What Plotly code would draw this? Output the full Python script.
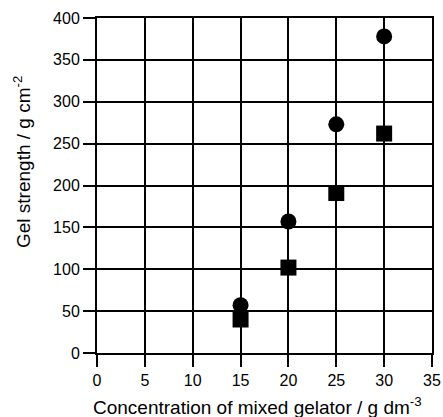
import plotly.graph_objects as go

conc = [15, 20, 25, 30]
circle_vals = [57, 157, 273, 378]
square_vals = [40, 102, 191, 262]

x_ticks = [0, 5, 10, 15, 20, 25, 30, 35]
y_ticks = [0, 50, 100, 150, 200, 250, 300, 350, 400]

x_title = "Concentration of mixed gelator / g dm<sup>-3</sup>"
y_title = "Gel strength / g cm<sup>-2</sup>"

font_fam = "Liberation Sans, Arial, Helvetica, sans-serif"

fig = go.Figure()
fig.add_trace(go.Scatter(x=conc, y=circle_vals, mode="markers",
                         marker=dict(symbol="circle", size=16, color="black"),
                         showlegend=False, cliponaxis=False))
fig.add_trace(go.Scatter(x=conc, y=square_vals, mode="markers",
                         marker=dict(symbol="square", size=16, color="black"),
                         showlegend=False, cliponaxis=False))

axis_common = dict(showgrid=True, gridcolor="black", gridwidth=2,
                   showline=True, linecolor="black", linewidth=2, mirror=True,
                   ticks="outside", ticklen=12, tickwidth=2, tickcolor="black",
                   zeroline=False, tickfont=dict(size=16, color="black", family=font_fam))

fig.update_xaxes(range=[0, 35], tickvals=x_ticks, ticktext=[str(v) for v in x_ticks],
                 **axis_common)
fig.update_yaxes(range=[0, 400], tickvals=y_ticks, ticktext=[str(v) for v in y_ticks],
                 **axis_common)

fig.add_annotation(text=x_title, xref="paper", yref="paper", x=0.478, y=-0.158,
                   xanchor="center", yanchor="middle", showarrow=False,
                   font=dict(size=19, color="black", family=font_fam))
fig.add_annotation(text=y_title, xref="paper", yref="paper", x=-0.224, y=0.57,
                   xanchor="center", yanchor="middle", showarrow=False, textangle=-90,
                   font=dict(size=19, color="black", family=font_fam))

fig.update_layout(width=443, height=417,
                  margin=dict(l=97, r=11, t=18, b=64, autoexpand=False),
                  plot_bgcolor="white", paper_bgcolor="white",
                  font=dict(family=font_fam, color="black"))

fig.write_html("out.html", config={"displayModeBar": False},
               post_script="document.body.style.margin='0';")
